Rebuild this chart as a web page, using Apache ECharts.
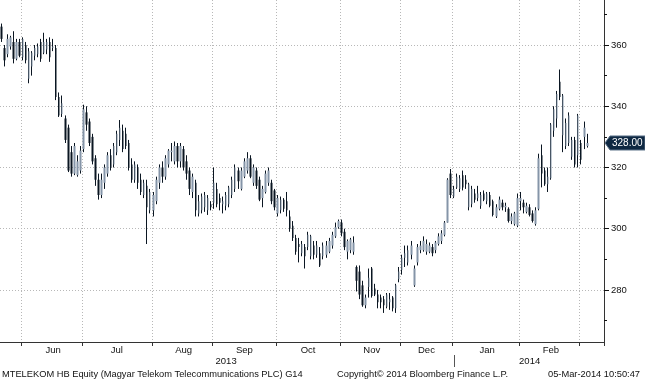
<!DOCTYPE html>
<html><head><meta charset="utf-8">
<script src="https://cdn.jsdelivr.net/npm/echarts@6/dist/echarts.min.js"></script>
<style>html,body{margin:0;padding:0;background:#fff}#c{width:645px;height:380px}</style>
</head><body><div id="c"></div>
<script>
// ---- data ----
const monthNames = ['May','Jun','Jul','Aug','Sep','Oct','Nov','Dec','Jan','Feb','Mar'];
const monthYears = [2013,2013,2013,2013,2013,2013,2013,2013,2014,2014,2014];
const monthDays  = [7,20,23,20,21,21,20,17,22,20,3];
const padSlots = 5;
const yLabelValues = [280,300,320,340,360];
const yMinorValues = [270,290,310,330,350,370];
const footerLeft = 'MTELEKOM HB Equity (Magyar Telekom Telecommunications PLC) G14';
const footerMid = 'Copyright\u00A9 2014 Bloomberg Finance L.P.';
const footerRight = '05-Mar-2014 10:50:47';

// [open, close, low, high]
const may13 = [
[366,362,361,367],[359,355,353,360],[357,362,356,363.5],[359.5,362.5,358.5,363],
[361,355.5,354,364.5],[355.5,361,355,362],[361,356.5,356,362]];
const jun13 = [
[356,362,355,362.5],[360,355,354,361],[349,358,347.5,359],[353,357.5,350,358],
[356.5,359,355,360],[357,359.5,356,360.5],[361,355.5,354.5,362],[357.5,361,357,364],
[358.5,361,357,362],[361,356,354.5,362.5],[359,359.5,358,362],[359,343,342,360],
[343,337,336.5,344.5],[337.5,341,336.5,343.5],[336,329,328,337],[333,319,318.5,334],
[325,318,317,327],[318,327,317.5,328],[317.5,322,317,324],[319,325.5,318,327]];
const jul13 = [
[326,339,325,340.5],[338,334,332,340],[335,328,327,336],[330,322,321,331],
[323,316,314,324],[316,311,309.5,318],[311,316,310,318],[315,320,313,321],
[318,324,317,325],[324,320,319,326],[321,327,320,328],[325,331,324,332],
[329,333,327,335.5],[332,326,325,334],[331,327,326,333],[328,320,319,329],
[321,316,315,323],[316,321,315,322],[320,315,313,321],[316,312,311,318],
[311,315,310,316],[314,307,295,316],[306,312,305,313]];
const aug13 = [
[306,311,304,312],[309,316,308,317],[315,320,313,321],[320,317,315,322],
[317,323,316,324],[321,325.5,320,326],[325,325.5,322,328],[322,327,321,328.5],
[327,322,320,328],[322,327,320,328],[326,320,319,327],[322,318,316,324],
[319,313,311,320],[312,317,310,318],[315,306,304,316],[305,309,304,311],
[306,310.5,305,311.5],[307,311,305.5,312],[306,310,304.5,311],[308,307,306,309]];
const sep13 = [
[308.5,315,306.5,320],[313,308,307,315],[310,308.5,306,311.5],[308,309,305,310.5],
[307.5,311,306,312],[308,313.5,307,314],[311,316,310,317],[313,320,312,321],
[319,315.5,313,320],[313,319,312.5,320],[317,322,316.5,323],[319,323,318,325],
[323,317,316.5,324],[315,320,314,321],[319,314,313,320],[316,309.5,309,317],
[310,313,307,314],[312,318,311.5,319],[315,319,314,320],[315,309,308,316],
[312.5,307,306,313]];
const oct13 = [
[305,310,304,311],[306,309.5,305,310.5],[309.5,306.5,305.5,310],[309,306,304,312],
[304,300,299,306],[301,297,296,302.5],[297,292.5,291.5,298],[295,294,289,297],
[292,295,291,296],[294,291,287,295],[294,298,293,299],[291,297.5,290,298],
[294.5,291.5,290,296],[291.5,294.5,290.5,296],[292,288,287.5,294],[291,294.5,290,295.5],
[291.5,294.5,290.5,296],[292.5,296,292,297],[294.5,298,293.5,299],[297.5,300.5,297,302],
[300.5,302.5,300,303]];
const nov13 = [
[302,298.5,297.5,303],[299,294,293,300],[292.5,296,290,296.5],[293,296.5,292,297],
[292.5,295.5,291.5,297.5],[287.5,283,279.5,288],[286,278.5,277,288],[281.5,275,274.5,283],
[275,277.5,274,278.5],[281,284,277.5,287],[287,278,277.5,287.5],[280.5,278.5,278,282],
[278.5,276,274,280],[277.5,276,274,278.5],[277,275,272.5,278],[274.5,278.5,274,279],
[276,277,273.5,279],[277.5,274,273,278],[274,281.5,272.5,282],[283.5,286,282.5,287.5]];
const dec13 = [
[286.5,290.5,285,291.5],[290.5,292,287.5,294.5],[289,293,288,294.5],[291.5,294.5,290,296],
[281.5,287,281,288],[289,294,288,295],[293,294.5,292,296],[293,296,292.5,297.5],
[292.5,295,291.5,296.5],[292.5,294.5,292,295.5],[294,292,291,295],[293,295.5,292,296],
[295,297.5,294.5,298.5],[296,298.5,295,299.5],[298,302,297.5,302.5],[302,316,302,316.5],
[318,311,310,319.5]];
const jan14 = [
[310.5,313,310,314],[313.5,317,313,318],[313,316.5,312,317.5],[317.5,313.5,312.5,319],
[316,314.5,313,317.5],[307,314.5,306,315],[308,313,307,314],[311.5,309.5,308.5,313],
[310,311.5,309,314],[307.5,311,306.5,312],[311.5,309.5,309,312.5],[309,311.5,308,312],
[311,307.5,307,312],[309,304.5,304,309.5],[304,307,303.5,308],[306.5,309.5,306,310.5],
[308.5,307,306,309.5],[307,307.5,305.5,308.5],[306.5,302.5,302,307],[302.5,304,301.5,305],
[301.5,305,301,305.5],[301,310,300.5,311.5]];
const feb14 = [
[309,310,306,312],[308.5,307,305,309.5],[305.5,307.5,305,308.5],[307,304.5,304,308],
[305,302.5,302,306],[301.5,306,301,307],[306.5,323,306,324.5],[324,318,313.5,327.5],
[319,314.5,314,320],[314.5,317,312,320],[316.5,334,316,334.5],[332,339,330,340],
[336,344,333,345],[348,343,342,352],[330.5,343.5,325,344],[327,334.5,326,336],
[328,337,327,338],[323.5,329,322.5,330],[329,321,320,330],[324,337,320,337.5]];
const mar14 = [[328,322.5,321,329],[330,333,326,335],[327,328,326.5,331]];

// ---- build ----
const candles = [].concat(may13,jun13,jul13,aug13,sep13,oct13,nov13,dec13,jan14,feb14,mar14);
const bodies = candles.map(d => [d[0], d[1], Math.min(d[0], d[1]), Math.max(d[0], d[1])]);
const categories = [], isMonthStart = [], isMonthMid = [], isYearStart = [], isYearMid = [];
monthDays.forEach((n, m) => {
  for (let k = 0; k < n; k++) {
    categories.push(monthNames[m] + ' ' + monthYears[m] + ' ' + (k + 1));
    isMonthStart.push(k === 0 && m > 0);
    isMonthMid.push(n >= 10 && k === Math.floor(n / 2));
    isYearStart.push(k === 0 && m > 0 && monthYears[m] !== monthYears[m - 1]);
  }
});
for (let p = 0; p < padSlots; p++) {
  categories.push('pad ' + monthYears[monthYears.length - 1] + ' ' + p);
  isMonthStart.push(false); isMonthMid.push(false); isYearStart.push(false);
}
const yearOf = categories.map(c => c.split(' ')[1]);
const spans = {};
yearOf.forEach((y, i) => { if (!spans[y]) spans[y] = [i, i]; spans[y][1] = i; });
categories.forEach(() => isYearMid.push(false));
Object.keys(spans).forEach(y => { const s = spans[y]; isYearMid[Math.floor((s[0] + s[1] + 1) / 2)] = true; });

const FONT = 'Liberation Sans';
const GRID = {type: [1, 2], color: '#b8b8b8', width: 1};
const DARK = '#0b1622';
const chart = echarts.init(document.getElementById('c'), null, {renderer: 'canvas'});
chart.setOption({
  animation: false,
  backgroundColor: '#ffffff',
  grid: {left: 0, right: 41, top: 0, bottom: 38, containLabel: false},
  xAxis: [{
    type: 'category', data: categories, boundaryGap: true,
    axisLine: {show: true, onZero: false, lineStyle: {color: '#333', width: 1}},
    axisTick: {show: true, interval: i => isMonthStart[i], length: 4, lineStyle: {color: '#333'}},
    axisLabel: {interval: i => isMonthMid[i], formatter: v => v.split(' ')[0], margin: 3,
      fontSize: 9.5, fontFamily: FONT, color: '#111'},
    splitLine: {show: true, interval: i => isMonthStart[i], lineStyle: GRID}
  }, {
    type: 'category', data: categories, boundaryGap: true, position: 'bottom', offset: 13,
    axisLine: {show: false, onZero: false},
    axisTick: {show: true, alignWithLabel: true, interval: i => isYearStart[i], length: 12, lineStyle: {color: '#555'}},
    axisLabel: {interval: i => isYearMid[i], formatter: v => v.split(' ')[1], margin: 1,
      fontSize: 9.5, fontFamily: FONT, color: '#111'},
    splitLine: {show: false}
  }],
  yAxis: [{
    type: 'value', position: 'right', min: 263, max: 374.7,
    axisLine: {show: true, lineStyle: {color: '#333', width: 1}},
    axisTick: {show: true, customValues: yLabelValues, length: 5, lineStyle: {color: '#111'}},
    axisLabel: {customValues: yLabelValues, margin: 7, fontSize: 9.5, fontFamily: FONT, color: '#111'},
    splitLine: {show: true, lineStyle: GRID}
  }, {
    type: 'value', position: 'right', min: 263, max: 374.7,
    axisLine: {show: false},
    axisTick: {show: true, customValues: yMinorValues, length: 3, lineStyle: {color: '#111'}},
    axisLabel: {show: false}, splitLine: {show: false}
  }],
  series: [{
    name: 'wick', type: 'candlestick', xAxisIndex: 0, yAxisIndex: 0, data: candles, barWidth: 1,
    itemStyle: {color: DARK, color0: DARK, borderColor: DARK, borderColor0: DARK, borderWidth: 1}
  }, {
    name: 'body', type: 'candlestick', xAxisIndex: 0, yAxisIndex: 0, data: bodies, barWidth: 2,
    barGap: '-100%',
    itemStyle: {color: '#8595a8', color0: DARK, borderColor: '#5d6d80', borderColor0: DARK, borderWidth: 0}
  }]
});

const last = candles[candles.length - 1][1];
const py = chart.convertToPixel({yAxisIndex: 0}, last);
chart.setOption({
  graphic: [
    {type: 'polygon', shape: {points: [[605, py], [610, py - 7], [645, py - 7], [645, py + 7], [610, py + 7]]},
     style: {fill: '#0e2842', stroke: '#5a6f86', lineWidth: 1}},
    {type: 'text', x: 612, y: py, style: {text: last.toFixed(2), fill: '#ffffff', fontSize: 10, fontFamily: FONT, verticalAlign: 'middle'}},
    {type: 'text', x: 2, y: 374, style: {text: footerLeft, fill: '#111', fontSize: 9.3, fontFamily: FONT, verticalAlign: 'middle'}},
    {type: 'text', x: 337, y: 374, style: {text: footerMid, fill: '#111', fontSize: 9.3, fontFamily: FONT, verticalAlign: 'middle'}},
    {type: 'text', x: 548, y: 374, style: {text: footerRight, fill: '#111', fontSize: 9.3, fontFamily: FONT, verticalAlign: 'middle'}}
  ]
});
</script></body></html>
